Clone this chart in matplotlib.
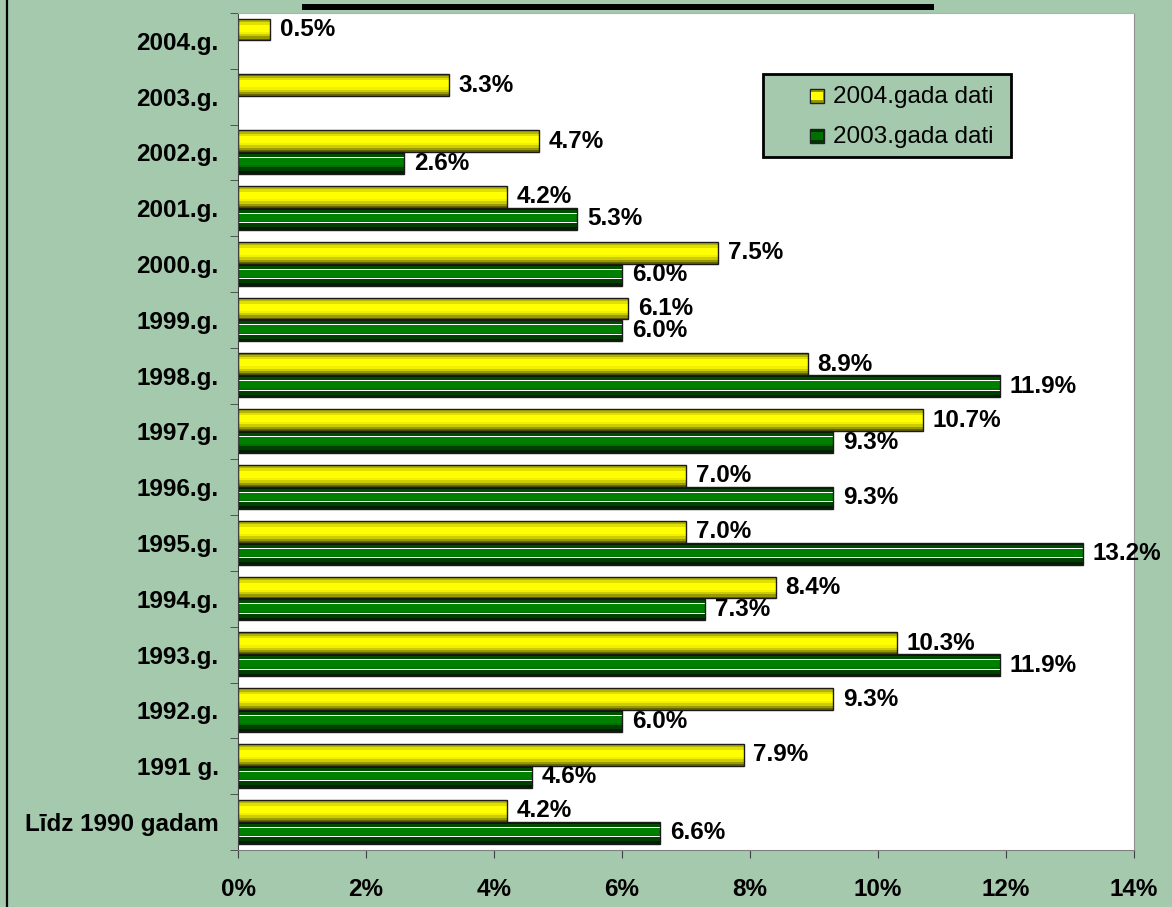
import matplotlib.pyplot as plt
from matplotlib.patches import Rectangle
import numpy as np

# categories top to bottom, shares in %
categories = ['2004.g.', '2003.g.', '2002.g.', '2001.g.', '2000.g.', '1999.g.', '1998.g.',
              '1997.g.', '1996.g.', '1995.g.', '1994.g.', '1993.g.', '1992.g.', '1991 g.',
              'Līdz 1990 gadam']
data_2004 = [0.5, 3.3, 4.7, 4.2, 7.5, 6.1, 8.9, 10.7, 7.0, 7.0, 8.4, 10.3, 9.3, 7.9, 4.2]
data_2003 = [np.nan, np.nan, 2.6, 5.3, 6.0, 6.0, 11.9, 9.3, 9.3, 13.2, 7.3, 11.9, 6.0, 4.6, 6.6]
series_names = ['2004.gada dati', '2003.gada dati']
x_ticks = [0, 2, 4, 6, 8, 10, 12, 14]

BG = '#a4c9ad'
FONT = 'Liberation Sans'
FS = 17.5

# vertical shading bands (colour, fraction of bar height), top to bottom
yellow_bands = [('#808000', 0.06), ('#b3b300', 0.10), ('#e0e000', 0.12), ('#ffff00', 0.32),
                ('#f0f000', 0.10), ('#cccc00', 0.12), ('#999900', 0.10), ('#666600', 0.08)]
green_bands = [('#002000', 0.08), ('#004d00', 0.14), ('#ffffff', 0.05), ('#008000', 0.33),
               ('#007000', 0.06), ('#ffffff', 0.04), ('#004000', 0.18), ('#002000', 0.12)]

W, H = 1172, 907
fig = plt.figure(figsize=(W / 100, H / 100), dpi=100, facecolor=BG)
ax = fig.add_axes([238 / W, 1 - 850 / H, (1134 - 238) / W, (850 - 13) / H])
ax.set_facecolor('white')

y_pos = np.arange(len(categories))
bar_h = 0.39


def shaded_bars(values, offset, bands):
    values = np.asarray(values, dtype=float)
    ok = ~np.isnan(values)
    ys = y_pos[ok] + offset
    vals = values[ok]
    cum = 0.0
    for color, frac in bands:
        centers = ys - bar_h / 2 + (cum + frac / 2) * bar_h
        ax.barh(centers, vals, height=frac * bar_h, color=color, linewidth=0)
        cum += frac
    ax.barh(ys, vals, height=bar_h, fill=False, edgecolor='#1a1a1a', linewidth=1)
    for y, v in zip(ys, vals):
        ax.annotate(f'{v:.1f}%', (v, y), xytext=(7, 0), textcoords='offset points',
                    ha='left', va='center', fontsize=FS, fontweight='bold', family=FONT)


shaded_bars(data_2004, -0.205, yellow_bands)
shaded_bars(data_2003, 0.19, green_bands)

ax.set_xlim(0, 14)
ax.set_ylim(len(categories) - 0.5, -0.5)

ax.set_xticks(x_ticks)
ax.set_xticklabels([f'{t}%' for t in x_ticks], fontsize=FS, fontweight='bold', family=FONT)
ax.tick_params(axis='x', length=6, color='#404040', pad=14)

ax.set_yticks(y_pos)
ax.set_yticklabels(categories, fontsize=FS, fontweight='bold', family=FONT)
ax.tick_params(axis='y', which='major', length=0, pad=14)
ax.set_yticks(np.arange(-0.5, len(categories), 1), minor=True)
ax.tick_params(axis='y', which='minor', length=6, color='#404040')

ax.spines['left'].set_color('#404040')
ax.spines['bottom'].set_color('#808080')
ax.spines['top'].set_color('#b0b0b0')
ax.spines['right'].set_color('#909090')


def px(x, y):
    return x / W, 1 - y / H


# legend box
lx, ly = px(763, 157)
fig.patches.append(Rectangle((lx, ly), (1011 - 763) / W, (157 - 74) / H, transform=fig.transFigure,
                             facecolor=BG, edgecolor='black', linewidth=2))
swatches = [('#999900', '#ffff00'), ('#003300', '#007000')]
for name, (edge_c, mid_c), yc in zip(series_names, swatches, [96, 136]):
    mx, my = px(810, yc + 7)
    fig.patches.append(Rectangle((mx, my), 14 / W, 14 / H, transform=fig.transFigure,
                                 facecolor=edge_c, edgecolor='#202020', linewidth=1))
    mx2, my2 = px(811, yc + 4)
    fig.patches.append(Rectangle((mx2, my2), 12 / W, 8 / H, transform=fig.transFigure,
                                 facecolor=mid_c, linewidth=0))
    tx, ty = px(833, yc + 1)
    fig.text(tx, ty, name, fontsize=FS, family=FONT, va='center', ha='left')

# title underline and outer border
ux, uy = px(302, 10)
fig.patches.append(Rectangle((ux, uy), (934 - 302) / W, 6 / H, transform=fig.transFigure,
                             facecolor='black', linewidth=0))
fig.add_artist(plt.Line2D([7 / W, 7 / W], [0, 1], transform=fig.transFigure, color='black', linewidth=1.6))

fig.savefig('out.png', dpi=100, facecolor=BG)
